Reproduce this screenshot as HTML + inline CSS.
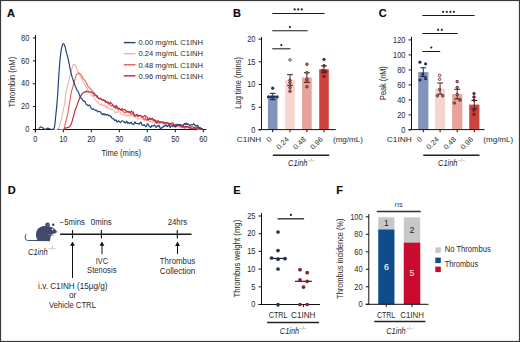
<!DOCTYPE html>
<html><head><meta charset="utf-8"><title>Figure</title>
<style>
html,body{margin:0;padding:0;background:#fff;width:520px;height:342px;overflow:hidden;}
svg{display:block;}
text{font-family:"Liberation Sans", sans-serif;}
</style></head>
<body>
<svg width="520" height="342" viewBox="0 0 520 342">
<rect x="0" y="0" width="520" height="342" fill="#fff"/>
<text x="7.00" y="16.50" font-size="11" fill="#0a0a0a" stroke="#0a0a0a" stroke-width="0.15" font-weight="bold">A</text>
<text x="233.00" y="16.50" font-size="11" fill="#0a0a0a" stroke="#0a0a0a" stroke-width="0.15" font-weight="bold">B</text>
<text x="378.80" y="16.70" font-size="11" fill="#0a0a0a" stroke="#0a0a0a" stroke-width="0.15" font-weight="bold">C</text>
<text x="7.80" y="194.30" font-size="11" fill="#0a0a0a" stroke="#0a0a0a" stroke-width="0.15" font-weight="bold">D</text>
<text x="233.20" y="194.30" font-size="11" fill="#0a0a0a" stroke="#0a0a0a" stroke-width="0.15" font-weight="bold">E</text>
<text x="336.20" y="194.40" font-size="11" fill="#0a0a0a" stroke="#0a0a0a" stroke-width="0.15" font-weight="bold">F</text>
<line x1="35.50" y1="35.00" x2="35.50" y2="132.30" stroke="#111" stroke-width="1.0"/>
<line x1="35.00" y1="129.50" x2="206.50" y2="129.50" stroke="#111" stroke-width="1.0"/>
<line x1="32.90" y1="129.50" x2="35.50" y2="129.50" stroke="#111" stroke-width="1.0"/>
<text x="29.30" y="132.20" font-size="8.4" fill="#2a2a2a" text-anchor="end" textLength="4.15" lengthAdjust="spacingAndGlyphs">0</text>
<line x1="32.90" y1="106.62" x2="35.50" y2="106.62" stroke="#111" stroke-width="1.0"/>
<text x="29.30" y="109.32" font-size="8.4" fill="#2a2a2a" text-anchor="end" textLength="8.3" lengthAdjust="spacingAndGlyphs">20</text>
<line x1="32.90" y1="83.74" x2="35.50" y2="83.74" stroke="#111" stroke-width="1.0"/>
<text x="29.30" y="86.44" font-size="8.4" fill="#2a2a2a" text-anchor="end" textLength="8.3" lengthAdjust="spacingAndGlyphs">40</text>
<line x1="32.90" y1="60.86" x2="35.50" y2="60.86" stroke="#111" stroke-width="1.0"/>
<text x="29.30" y="63.56" font-size="8.4" fill="#2a2a2a" text-anchor="end" textLength="8.3" lengthAdjust="spacingAndGlyphs">60</text>
<line x1="32.90" y1="37.98" x2="35.50" y2="37.98" stroke="#111" stroke-width="1.0"/>
<text x="29.30" y="40.68" font-size="8.4" fill="#2a2a2a" text-anchor="end" textLength="8.3" lengthAdjust="spacingAndGlyphs">80</text>
<line x1="35.30" y1="129.50" x2="35.30" y2="132.30" stroke="#111" stroke-width="1.0"/>
<text x="35.30" y="142.40" font-size="8.4" fill="#2a2a2a" text-anchor="middle" textLength="4.15" lengthAdjust="spacingAndGlyphs">0</text>
<line x1="63.30" y1="129.50" x2="63.30" y2="132.30" stroke="#111" stroke-width="1.0"/>
<text x="63.30" y="142.40" font-size="8.4" fill="#2a2a2a" text-anchor="middle" textLength="8.3" lengthAdjust="spacingAndGlyphs">10</text>
<line x1="91.30" y1="129.50" x2="91.30" y2="132.30" stroke="#111" stroke-width="1.0"/>
<text x="91.30" y="142.40" font-size="8.4" fill="#2a2a2a" text-anchor="middle" textLength="8.3" lengthAdjust="spacingAndGlyphs">20</text>
<line x1="119.30" y1="129.50" x2="119.30" y2="132.30" stroke="#111" stroke-width="1.0"/>
<text x="119.30" y="142.40" font-size="8.4" fill="#2a2a2a" text-anchor="middle" textLength="8.3" lengthAdjust="spacingAndGlyphs">30</text>
<line x1="147.30" y1="129.50" x2="147.30" y2="132.30" stroke="#111" stroke-width="1.0"/>
<text x="147.30" y="142.40" font-size="8.4" fill="#2a2a2a" text-anchor="middle" textLength="8.3" lengthAdjust="spacingAndGlyphs">40</text>
<line x1="175.30" y1="129.50" x2="175.30" y2="132.30" stroke="#111" stroke-width="1.0"/>
<text x="175.30" y="142.40" font-size="8.4" fill="#2a2a2a" text-anchor="middle" textLength="8.3" lengthAdjust="spacingAndGlyphs">50</text>
<line x1="203.30" y1="129.50" x2="203.30" y2="132.30" stroke="#111" stroke-width="1.0"/>
<text x="203.30" y="142.40" font-size="8.4" fill="#2a2a2a" text-anchor="middle" textLength="8.3" lengthAdjust="spacingAndGlyphs">60</text>
<text x="121.30" y="155.60" font-size="8.9" fill="#2a2a2a" text-anchor="middle" textLength="39.7" lengthAdjust="spacingAndGlyphs">Time (mins)</text>
<text x="14.90" y="82.15" font-size="9.2" fill="#2a2a2a" text-anchor="middle" textLength="50.7" lengthAdjust="spacingAndGlyphs" transform="rotate(-90 14.90 82.15)">Thrombin (nM)</text>
<line x1="123.80" y1="42.60" x2="135.50" y2="42.60" stroke="#21467a" stroke-width="1.4"/>
<text x="138.50" y="45.40" font-size="7.6" fill="#2a2a2a" textLength="64.5" lengthAdjust="spacingAndGlyphs">0.00 mg/mL C1INH</text>
<line x1="123.80" y1="53.68" x2="135.50" y2="53.68" stroke="#efb2aa" stroke-width="1.4"/>
<text x="138.50" y="56.48" font-size="7.6" fill="#2a2a2a" textLength="64.5" lengthAdjust="spacingAndGlyphs">0.24 mg/mL C1INH</text>
<line x1="123.80" y1="64.76" x2="135.50" y2="64.76" stroke="#e2605f" stroke-width="1.4"/>
<text x="138.50" y="67.56" font-size="7.6" fill="#2a2a2a" textLength="64.5" lengthAdjust="spacingAndGlyphs">0.48 mg/mL C1INH</text>
<line x1="123.80" y1="75.84" x2="135.50" y2="75.84" stroke="#b8283a" stroke-width="1.4"/>
<text x="138.50" y="78.64" font-size="7.6" fill="#2a2a2a" textLength="64.5" lengthAdjust="spacingAndGlyphs">0.96 mg/mL C1INH</text>
<path d="M53.78,129.43 L54.40,129.51 L55.01,129.56 L55.63,129.47 L56.24,129.44 L56.86,129.49 L57.48,129.23 L58.09,128.73 L58.71,127.75 L59.32,126.27 L59.94,124.42 L60.56,122.21 L61.17,119.85 L61.79,117.40 L62.40,114.57 L63.02,111.58 L63.64,108.57 L64.25,105.37 L64.87,101.65 L65.48,95.87 L66.10,91.26 L66.72,88.74 L67.33,86.60 L67.95,84.12 L68.56,81.63 L69.18,79.41 L69.80,76.48 L70.41,73.97 L71.03,72.11 L71.64,69.41 L72.26,67.23 L72.88,65.68 L73.49,64.78 L74.11,64.45 L74.72,64.89 L75.34,65.84 L75.96,66.69 L76.57,68.25 L77.19,69.96 L77.80,71.60 L78.42,72.58 L79.04,73.92 L79.65,75.36 L80.27,76.33 L80.88,77.16 L81.50,78.42 L82.12,80.27 L82.73,81.00 L83.35,82.01 L83.96,83.37 L84.58,84.51 L85.20,85.17 L85.81,86.52 L86.43,87.11 L87.04,87.95 L87.66,89.58 L88.28,90.51 L88.89,91.45 L89.51,91.85 L90.12,92.14 L90.74,93.11 L91.36,95.36 L91.97,95.97 L92.59,95.54 L93.20,95.75 L93.82,97.31 L94.44,98.84 L95.05,99.27 L95.67,100.03 L96.28,101.04 L96.90,101.85 L97.52,101.91 L98.13,102.37 L98.75,103.15 L99.36,103.95 L99.98,104.86 L100.60,104.61 L101.21,104.02 L101.83,105.11 L102.44,105.90 L103.06,104.90 L103.68,104.78 L104.29,104.66 L104.91,105.97 L105.52,107.19 L106.14,107.60 L106.76,106.12 L107.37,105.76 L107.99,107.87 L108.60,108.50 L109.22,108.30 L109.84,109.12 L110.45,109.39 L111.07,109.51 L111.68,109.31 L112.30,109.16 L112.92,109.75 L113.53,109.98 L114.15,110.76 L114.76,111.36 L115.38,112.85 L116.00,112.73 L116.61,111.74 L117.23,112.13 L117.84,111.93 L118.46,111.78 L119.08,111.62 L119.69,111.95 L120.31,112.37 L120.92,113.35 L121.54,114.15 L122.16,114.44 L122.77,114.62 L123.39,115.04 L124.00,114.91 L124.62,114.63 L125.24,114.63 L125.85,115.44 L126.47,116.34 L127.08,115.64 L127.70,115.08 L128.32,114.77 L128.93,115.33 L129.55,116.39 L130.16,116.30 L130.78,115.06 L131.40,115.22 L132.01,114.93 L132.63,115.30 L133.24,116.98 L133.86,117.00 L134.48,116.85 L135.09,116.94 L135.71,117.17 L136.32,117.55 L136.94,118.14 L137.56,119.06 L138.17,118.86 L138.79,118.92 L139.40,118.77 L140.02,118.88 L140.64,118.44 L141.25,118.33 L141.87,118.74 L142.48,119.03 L143.10,119.41 L143.72,119.86 L144.33,119.99 L144.95,120.09 L145.56,119.82 L146.18,119.89 L146.80,120.14 L147.41,120.89 L148.03,120.40 L148.64,121.11 L149.26,121.47 L149.88,121.36 L150.49,121.45 L151.11,121.33 L151.72,121.95 L152.34,122.55 L152.96,122.23 L153.57,121.27 L154.19,122.02 L154.80,122.94 L155.42,122.95 L156.04,123.14 L156.65,122.23 L157.27,123.33 L157.88,122.91 L158.50,123.02 L159.12,124.02 L159.73,123.35 L160.35,122.80 L160.96,123.16 L161.58,123.38 L162.20,123.29 L162.81,123.73 L163.43,124.00 L164.04,124.22 L164.66,124.29 L165.28,124.87 L165.89,124.51 L166.51,125.19 L167.12,125.63 L167.74,124.69 L168.36,123.84 L168.97,124.43 L169.59,125.35 L170.20,125.25 L170.82,125.75 L171.44,125.84 L172.05,126.24 L172.67,127.27 L173.28,126.56 L173.90,126.83 L174.52,127.13 L175.13,127.64 L175.75,127.80 L176.36,127.17 L176.98,125.88 L177.60,125.43 L178.21,126.15 L178.83,126.17 L179.44,127.20 L180.06,128.15 L180.68,127.23 L181.29,126.88 L181.91,127.29 L182.52,127.03 L183.14,127.09 L183.76,128.12 L184.37,128.60 L184.99,128.02 L185.60,127.86 L186.22,127.74 L186.84,126.85 L187.45,126.63 L188.07,127.64 L188.68,127.41 L189.30,127.14 L189.92,127.23 L190.53,127.43 L191.15,128.08 L191.76,127.48 L192.38,126.77 L193.00,127.61 L193.61,128.55 L194.23,128.01 L194.84,127.59 L195.46,128.26 L196.08,128.64 L196.69,128.16 L197.31,129.13 L197.92,128.78 L198.54,129.03 L199.16,129.41 L199.77,128.38 L200.39,128.77 L201.00,129.56 L201.62,129.03 L202.24,129.64 L202.85,130.40" fill="none" stroke="#efb2aa" stroke-width="1.1" stroke-linejoin="round"/>
<path d="M59.32,129.34 L59.94,129.43 L60.56,129.51 L61.17,129.44 L61.79,129.47 L62.40,129.44 L63.02,129.44 L63.64,129.16 L64.25,128.30 L64.87,125.67 L65.48,122.85 L66.10,120.41 L66.72,117.82 L67.33,115.13 L67.95,112.42 L68.56,109.36 L69.18,105.45 L69.80,101.66 L70.41,97.63 L71.03,93.91 L71.64,90.93 L72.26,89.01 L72.88,86.84 L73.49,84.27 L74.11,82.06 L74.72,80.01 L75.34,77.85 L75.96,75.72 L76.57,74.48 L77.19,74.21 L77.80,73.63 L78.42,72.97 L79.04,73.08 L79.65,73.53 L80.27,73.85 L80.88,74.42 L81.50,75.47 L82.12,76.54 L82.73,77.94 L83.35,78.90 L83.96,79.37 L84.58,80.07 L85.20,81.02 L85.81,82.04 L86.43,82.98 L87.04,84.18 L87.66,85.78 L88.28,86.46 L88.89,86.78 L89.51,87.61 L90.12,88.73 L90.74,89.02 L91.36,89.97 L91.97,90.77 L92.59,91.00 L93.20,91.73 L93.82,93.15 L94.44,92.97 L95.05,93.88 L95.67,95.16 L96.28,96.07 L96.90,97.46 L97.52,97.33 L98.13,97.25 L98.75,98.08 L99.36,98.47 L99.98,98.69 L100.60,98.77 L101.21,98.77 L101.83,99.67 L102.44,100.25 L103.06,99.87 L103.68,99.62 L104.29,100.99 L104.91,101.74 L105.52,102.61 L106.14,101.73 L106.76,101.77 L107.37,102.14 L107.99,103.43 L108.60,104.28 L109.22,103.68 L109.84,104.05 L110.45,105.55 L111.07,106.21 L111.68,105.62 L112.30,105.37 L112.92,104.78 L113.53,106.51 L114.15,107.37 L114.76,107.74 L115.38,108.79 L116.00,108.43 L116.61,107.39 L117.23,108.40 L117.84,109.52 L118.46,109.97 L119.08,109.24 L119.69,109.17 L120.31,109.79 L120.92,110.37 L121.54,110.28 L122.16,110.53 L122.77,111.11 L123.39,111.28 L124.00,112.73 L124.62,112.78 L125.24,112.15 L125.85,112.23 L126.47,112.72 L127.08,112.06 L127.70,111.62 L128.32,112.09 L128.93,112.43 L129.55,112.40 L130.16,113.07 L130.78,114.13 L131.40,113.78 L132.01,113.37 L132.63,114.53 L133.24,114.60 L133.86,114.95 L134.48,115.59 L135.09,115.75 L135.71,115.25 L136.32,115.10 L136.94,115.63 L137.56,116.68 L138.17,116.40 L138.79,115.85 L139.40,115.61 L140.02,115.83 L140.64,115.94 L141.25,116.00 L141.87,116.66 L142.48,117.75 L143.10,117.91 L143.72,118.75 L144.33,120.00 L144.95,119.33 L145.56,117.71 L146.18,119.34 L146.80,120.54 L147.41,119.50 L148.03,118.36 L148.64,118.97 L149.26,119.32 L149.88,119.78 L150.49,119.68 L151.11,119.06 L151.72,119.41 L152.34,120.00 L152.96,119.69 L153.57,119.78 L154.19,120.59 L154.80,120.69 L155.42,120.93 L156.04,121.26 L156.65,120.74 L157.27,121.40 L157.88,122.30 L158.50,123.10 L159.12,122.62 L159.73,121.50 L160.35,122.38 L160.96,122.26 L161.58,122.39 L162.20,122.13 L162.81,122.32 L163.43,123.20 L164.04,123.24 L164.66,123.04 L165.28,123.13 L165.89,123.42 L166.51,123.57 L167.12,123.05 L167.74,122.74 L168.36,123.48 L168.97,124.34 L169.59,124.11 L170.20,124.14 L170.82,123.81 L171.44,123.43 L172.05,124.51 L172.67,125.11 L173.28,125.61 L173.90,125.60 L174.52,125.32 L175.13,124.42 L175.75,125.06 L176.36,125.46 L176.98,124.87 L177.60,126.02 L178.21,125.40 L178.83,125.04 L179.44,125.55 L180.06,126.23 L180.68,126.46 L181.29,126.42 L181.91,126.50 L182.52,127.90 L183.14,127.37 L183.76,126.82 L184.37,127.48 L184.99,128.16 L185.60,127.63 L186.22,127.38 L186.84,126.49 L187.45,126.15 L188.07,127.34 L188.68,128.58 L189.30,128.15 L189.92,127.99 L190.53,127.03 L191.15,126.44 L191.76,126.81 L192.38,126.23 L193.00,126.45 L193.61,127.46 L194.23,128.45 L194.84,128.50 L195.46,128.80 L196.08,127.83 L196.69,127.69 L197.31,127.38 L197.92,128.29 L198.54,129.40 L199.16,128.25 L199.77,127.43 L200.39,127.50 L201.00,129.00 L201.62,129.34 L202.24,128.98 L202.85,129.31" fill="none" stroke="#e2605f" stroke-width="1.1" stroke-linejoin="round"/>
<path d="M62.40,129.45 L63.02,129.45 L63.64,129.48 L64.25,129.53 L64.87,128.95 L65.48,127.91 L66.10,127.81 L66.72,127.72 L67.33,127.67 L67.95,127.54 L68.56,127.43 L69.18,126.93 L69.80,126.36 L70.41,125.39 L71.03,124.46 L71.64,122.89 L72.26,120.87 L72.88,118.39 L73.49,116.29 L74.11,114.05 L74.72,111.52 L75.34,109.26 L75.96,107.71 L76.57,106.67 L77.19,104.66 L77.80,102.86 L78.42,101.33 L79.04,99.46 L79.65,97.58 L80.27,96.84 L80.88,95.95 L81.50,94.69 L82.12,93.88 L82.73,93.21 L83.35,92.69 L83.96,92.04 L84.58,91.84 L85.20,92.33 L85.81,92.07 L86.43,91.16 L87.04,91.09 L87.66,91.63 L88.28,91.93 L88.89,91.94 L89.51,92.21 L90.12,92.07 L90.74,91.83 L91.36,92.03 L91.97,92.37 L92.59,93.27 L93.20,93.38 L93.82,93.62 L94.44,95.34 L95.05,95.72 L95.67,95.78 L96.28,95.68 L96.90,95.45 L97.52,96.62 L98.13,98.32 L98.75,98.52 L99.36,99.01 L99.98,98.87 L100.60,98.01 L101.21,99.34 L101.83,99.66 L102.44,99.93 L103.06,99.53 L103.68,99.84 L104.29,100.40 L104.91,100.59 L105.52,100.58 L106.14,101.85 L106.76,102.53 L107.37,102.52 L107.99,101.74 L108.60,102.72 L109.22,103.71 L109.84,103.22 L110.45,102.16 L111.07,103.31 L111.68,103.68 L112.30,104.17 L112.92,105.03 L113.53,105.83 L114.15,106.10 L114.76,106.77 L115.38,107.28 L116.00,105.39 L116.61,105.95 L117.23,107.22 L117.84,108.09 L118.46,108.52 L119.08,108.15 L119.69,108.66 L120.31,109.12 L120.92,110.01 L121.54,109.20 L122.16,108.51 L122.77,109.57 L123.39,109.71 L124.00,109.92 L124.62,109.60 L125.24,109.79 L125.85,110.72 L126.47,111.31 L127.08,111.15 L127.70,111.45 L128.32,111.88 L128.93,111.56 L129.55,111.84 L130.16,112.73 L130.78,112.12 L131.40,110.75 L132.01,111.81 L132.63,112.42 L133.24,111.92 L133.86,113.91 L134.48,115.89 L135.09,116.10 L135.71,115.61 L136.32,114.51 L136.94,114.57 L137.56,115.90 L138.17,115.21 L138.79,115.88 L139.40,115.62 L140.02,115.40 L140.64,115.67 L141.25,116.10 L141.87,116.56 L142.48,117.25 L143.10,116.70 L143.72,116.18 L144.33,115.92 L144.95,115.39 L145.56,116.25 L146.18,116.78 L146.80,116.76 L147.41,117.94 L148.03,119.56 L148.64,119.91 L149.26,118.26 L149.88,118.09 L150.49,118.47 L151.11,119.17 L151.72,118.84 L152.34,118.23 L152.96,119.33 L153.57,120.56 L154.19,120.22 L154.80,119.62 L155.42,121.23 L156.04,122.75 L156.65,122.84 L157.27,121.90 L157.88,120.67 L158.50,120.99 L159.12,121.92 L159.73,122.32 L160.35,121.86 L160.96,121.88 L161.58,122.22 L162.20,122.36 L162.81,122.24 L163.43,121.76 L164.04,123.45 L164.66,123.15 L165.28,123.14 L165.89,122.65 L166.51,122.90 L167.12,122.84 L167.74,122.83 L168.36,122.98 L168.97,123.20 L169.59,124.17 L170.20,123.59 L170.82,123.85 L171.44,123.61 L172.05,122.99 L172.67,122.97 L173.28,123.53 L173.90,125.83 L174.52,125.63 L175.13,124.73 L175.75,125.55 L176.36,125.12 L176.98,124.04 L177.60,124.66 L178.21,125.78 L178.83,125.36 L179.44,125.17 L180.06,125.63 L180.68,125.91 L181.29,126.24 L181.91,126.97 L182.52,126.63 L183.14,126.79 L183.76,126.26 L184.37,126.33 L184.99,126.92 L185.60,126.41 L186.22,126.43 L186.84,126.66 L187.45,126.58 L188.07,127.14 L188.68,127.35 L189.30,127.23 L189.92,127.08 L190.53,127.18 L191.15,128.77 L191.76,128.65 L192.38,129.06 L193.00,128.41 L193.61,127.77 L194.23,127.65 L194.84,127.32 L195.46,128.23 L196.08,129.99 L196.69,129.13 L197.31,127.20 L197.92,127.00 L198.54,128.29 L199.16,128.90 L199.77,127.86 L200.39,129.28 L201.00,128.79 L201.62,128.49 L202.24,128.71 L202.85,129.30" fill="none" stroke="#b8283a" stroke-width="1.15" stroke-linejoin="round"/>
<path d="M39.00,128.66 L39.61,127.84 L40.23,127.05 L40.84,126.96 L41.46,126.94 L42.08,127.56 L42.69,127.84 L43.31,128.20 L43.92,129.05 L44.54,129.27 L45.16,129.18 L45.77,129.00 L46.39,129.00 L47.00,128.60 L47.62,128.16 L48.24,128.29 L48.85,128.57 L49.47,128.77 L50.08,129.00 L50.70,129.18 L51.32,129.26 L51.93,129.45 L52.55,129.30 L53.16,129.30 L53.78,128.76 L54.40,127.65 L55.01,123.49 L55.63,116.99 L56.24,111.12 L56.86,104.63 L57.48,97.31 L58.09,87.45 L58.71,77.11 L59.32,68.08 L59.94,60.74 L60.56,54.68 L61.17,50.17 L61.79,47.37 L62.40,44.79 L63.02,43.75 L63.64,43.94 L64.25,44.64 L64.87,45.87 L65.48,48.19 L66.10,51.24 L66.72,53.59 L67.33,55.80 L67.95,58.19 L68.56,61.02 L69.18,63.94 L69.80,67.17 L70.41,70.47 L71.03,72.96 L71.64,75.07 L72.26,77.44 L72.88,79.44 L73.49,81.01 L74.11,82.78 L74.72,84.56 L75.34,86.11 L75.96,87.83 L76.57,89.39 L77.19,90.56 L77.80,91.20 L78.42,92.10 L79.04,94.03 L79.65,95.33 L80.27,96.68 L80.88,98.12 L81.50,98.40 L82.12,99.03 L82.73,100.32 L83.35,100.65 L83.96,101.41 L84.58,101.27 L85.20,101.73 L85.81,103.40 L86.43,104.75 L87.04,104.76 L87.66,105.44 L88.28,105.81 L88.89,105.33 L89.51,104.96 L90.12,105.95 L90.74,107.08 L91.36,108.80 L91.97,108.99 L92.59,109.30 L93.20,108.78 L93.82,109.45 L94.44,109.78 L95.05,110.12 L95.67,110.38 L96.28,110.07 L96.90,110.75 L97.52,111.76 L98.13,111.82 L98.75,111.46 L99.36,111.27 L99.98,111.90 L100.60,111.91 L101.21,113.26 L101.83,114.01 L102.44,114.47 L103.06,113.64 L103.68,114.69 L104.29,114.86 L104.91,113.92 L105.52,114.75 L106.14,115.03 L106.76,114.26 L107.37,114.66 L107.99,114.74 L108.60,115.58 L109.22,115.39 L109.84,115.55 L110.45,116.29 L111.07,116.25 L111.68,117.92 L112.30,118.70 L112.92,118.63 L113.53,118.63 L114.15,119.89 L114.76,120.56 L115.38,120.11 L116.00,119.81 L116.61,121.21 L117.23,122.12 L117.84,121.31 L118.46,120.78 L119.08,121.38 L119.69,121.75 L120.31,122.72 L120.92,121.81 L121.54,121.18 L122.16,120.90 L122.77,120.96 L123.39,121.22 L124.00,122.13 L124.62,121.98 L125.24,123.17 L125.85,122.59 L126.47,121.13 L127.08,121.70 L127.70,123.38 L128.32,122.59 L128.93,123.05 L129.55,123.55 L130.16,123.05 L130.78,122.60 L131.40,122.42 L132.01,124.11 L132.63,124.02 L133.24,124.00 L133.86,124.50 L134.48,122.44 L135.09,121.84 L135.71,123.32 L136.32,123.35 L136.94,123.49 L137.56,123.52 L138.17,123.78 L138.79,123.42 L139.40,124.02 L140.02,122.90 L140.64,122.59 L141.25,122.41 L141.87,124.80 L142.48,125.08 L143.10,125.44 L143.72,124.83 L144.33,124.56 L144.95,125.74 L145.56,126.70 L146.18,126.66 L146.80,125.02 L147.41,123.81 L148.03,124.01 L148.64,125.30 L149.26,126.33 L149.88,126.52 L150.49,127.38 L151.11,127.14 L151.72,125.53 L152.34,125.83 L152.96,125.97 L153.57,125.97 L154.19,124.95 L154.80,125.15 L155.42,126.89 L156.04,127.36 L156.65,127.09 L157.27,125.73 L157.88,125.77 L158.50,126.40 L159.12,125.42 L159.73,126.90 L160.35,128.70 L160.96,129.16 L161.58,127.72 L162.20,127.04 L162.81,127.31 L163.43,126.51 L164.04,125.85 L164.66,126.30 L165.28,125.62 L165.89,124.96 L166.51,125.88 L167.12,126.72 L167.74,126.13 L168.36,125.31 L168.97,124.65 L169.59,126.51 L170.20,127.53 L170.82,126.32 L171.44,125.97 L172.05,126.25 L172.67,125.70 L173.28,125.37 L173.90,125.23 L174.52,126.56 L175.13,126.79 L175.75,126.33 L176.36,126.05 L176.98,124.93 L177.60,125.15 L178.21,125.38 L178.83,124.55 L179.44,124.78 L180.06,124.62 L180.68,124.71 L181.29,125.26 L181.91,125.19 L182.52,125.09 L183.14,125.47 L183.76,124.67 L184.37,123.58 L184.99,124.03 L185.60,124.36 L186.22,123.08 L186.84,124.59 L187.45,124.31 L188.07,123.81 L188.68,124.06 L189.30,125.51 L189.92,125.55 L190.53,125.21 L191.15,124.45 L191.76,124.71 L192.38,124.87 L193.00,124.40 L193.61,123.60 L194.23,124.20 L194.84,124.86 L195.46,125.83 L196.08,125.56 L196.69,126.13 L197.31,125.28 L197.92,125.91 L198.54,127.40 L199.16,128.06 L199.77,127.70 L200.39,127.86 L201.00,128.63 L201.62,128.87 L202.24,129.04 L202.85,129.26" fill="none" stroke="#21467a" stroke-width="1.2" stroke-linejoin="round"/>
<rect x="267.90" y="96.50" width="9.60" height="33.10" fill="#8393bb"/>
<rect x="285.20" y="80.00" width="9.60" height="49.60" fill="#f6d5cf"/>
<rect x="302.10" y="77.50" width="9.60" height="52.10" fill="#e9a199"/>
<rect x="319.20" y="69.30" width="9.60" height="60.30" fill="#cf433f"/>
<line x1="261.50" y1="37.00" x2="261.50" y2="129.60" stroke="#111" stroke-width="1.0"/>
<line x1="258.50" y1="129.60" x2="335.80" y2="129.60" stroke="#111" stroke-width="1.0"/>
<line x1="258.60" y1="129.90" x2="261.50" y2="129.90" stroke="#111" stroke-width="1.0"/>
<text x="255.50" y="132.60" font-size="8.4" fill="#2a2a2a" text-anchor="end" textLength="4.15" lengthAdjust="spacingAndGlyphs">0</text>
<line x1="258.60" y1="107.20" x2="261.50" y2="107.20" stroke="#111" stroke-width="1.0"/>
<text x="255.50" y="109.90" font-size="8.4" fill="#2a2a2a" text-anchor="end" textLength="4.15" lengthAdjust="spacingAndGlyphs">5</text>
<line x1="258.60" y1="84.50" x2="261.50" y2="84.50" stroke="#111" stroke-width="1.0"/>
<text x="255.50" y="87.20" font-size="8.4" fill="#2a2a2a" text-anchor="end" textLength="8.3" lengthAdjust="spacingAndGlyphs">10</text>
<line x1="258.60" y1="61.80" x2="261.50" y2="61.80" stroke="#111" stroke-width="1.0"/>
<text x="255.50" y="64.50" font-size="8.4" fill="#2a2a2a" text-anchor="end" textLength="8.3" lengthAdjust="spacingAndGlyphs">15</text>
<line x1="258.60" y1="39.10" x2="261.50" y2="39.10" stroke="#111" stroke-width="1.0"/>
<text x="255.50" y="41.80" font-size="8.4" fill="#2a2a2a" text-anchor="end" textLength="8.3" lengthAdjust="spacingAndGlyphs">20</text>
<line x1="272.70" y1="129.60" x2="272.70" y2="132.20" stroke="#111" stroke-width="1.0"/>
<line x1="290.00" y1="129.60" x2="290.00" y2="132.20" stroke="#111" stroke-width="1.0"/>
<line x1="306.90" y1="129.60" x2="306.90" y2="132.20" stroke="#111" stroke-width="1.0"/>
<line x1="324.00" y1="129.60" x2="324.00" y2="132.20" stroke="#111" stroke-width="1.0"/>
<line x1="272.70" y1="93.30" x2="272.70" y2="99.70" stroke="#1a1a30" stroke-width="0.9"/>
<line x1="269.80" y1="93.30" x2="275.60" y2="93.30" stroke="#1a1a30" stroke-width="1.0"/>
<line x1="269.80" y1="99.70" x2="275.60" y2="99.70" stroke="#1a1a30" stroke-width="1.0"/>
<circle cx="272.70" cy="88.20" r="1.6" fill="#1d3562" stroke="none" stroke-width="0.6"/>
<circle cx="268.50" cy="96.80" r="1.6" fill="#1d3562" stroke="none" stroke-width="0.6"/>
<circle cx="271.40" cy="96.80" r="1.6" fill="#1d3562" stroke="none" stroke-width="0.6"/>
<circle cx="274.30" cy="96.80" r="1.6" fill="#1d3562" stroke="none" stroke-width="0.6"/>
<circle cx="277.20" cy="96.80" r="1.6" fill="#1d3562" stroke="none" stroke-width="0.6"/>
<line x1="290.00" y1="74.70" x2="290.00" y2="85.30" stroke="#3a1a20" stroke-width="0.9"/>
<line x1="287.10" y1="74.70" x2="292.90" y2="74.70" stroke="#3a1a20" stroke-width="1.0"/>
<line x1="287.10" y1="85.30" x2="292.90" y2="85.30" stroke="#3a1a20" stroke-width="1.0"/>
<circle cx="290.00" cy="59.90" r="1.3" fill="#f6e4e2" stroke="#5a2128" stroke-width="0.75"/>
<circle cx="290.00" cy="80.20" r="1.3" fill="#a86a68" stroke="#5a2128" stroke-width="0.75"/>
<circle cx="290.00" cy="82.60" r="1.3" fill="#a86a68" stroke="#5a2128" stroke-width="0.75"/>
<circle cx="290.00" cy="87.60" r="1.3" fill="#a86a68" stroke="#5a2128" stroke-width="0.75"/>
<circle cx="290.00" cy="91.20" r="1.3" fill="#a86a68" stroke="#5a2128" stroke-width="0.75"/>
<line x1="306.90" y1="72.70" x2="306.90" y2="82.30" stroke="#3a1a20" stroke-width="0.9"/>
<line x1="304.00" y1="72.70" x2="309.80" y2="72.70" stroke="#3a1a20" stroke-width="1.0"/>
<line x1="304.00" y1="82.30" x2="309.80" y2="82.30" stroke="#3a1a20" stroke-width="1.0"/>
<circle cx="306.90" cy="64.20" r="1.3" fill="#a86a68" stroke="#5a2128" stroke-width="0.75"/>
<circle cx="306.90" cy="72.70" r="1.3" fill="#a86a68" stroke="#5a2128" stroke-width="0.75"/>
<circle cx="306.90" cy="79.20" r="1.3" fill="#a86a68" stroke="#5a2128" stroke-width="0.75"/>
<circle cx="306.90" cy="81.60" r="1.3" fill="#a86a68" stroke="#5a2128" stroke-width="0.75"/>
<circle cx="306.90" cy="86.80" r="1.3" fill="#a86a68" stroke="#5a2128" stroke-width="0.75"/>
<line x1="324.00" y1="65.80" x2="324.00" y2="72.80" stroke="#3a1a20" stroke-width="0.9"/>
<line x1="321.10" y1="65.80" x2="326.90" y2="65.80" stroke="#3a1a20" stroke-width="1.0"/>
<line x1="321.10" y1="72.80" x2="326.90" y2="72.80" stroke="#3a1a20" stroke-width="1.0"/>
<circle cx="324.00" cy="59.50" r="1.3" fill="#7a2430" stroke="#5a2128" stroke-width="0.75"/>
<circle cx="324.00" cy="65.80" r="1.3" fill="#7a2430" stroke="#5a2128" stroke-width="0.75"/>
<circle cx="322.80" cy="70.50" r="1.3" fill="#7a2430" stroke="#5a2128" stroke-width="0.75"/>
<circle cx="325.60" cy="71.20" r="1.3" fill="#7a2430" stroke="#5a2128" stroke-width="0.75"/>
<circle cx="324.00" cy="76.30" r="1.3" fill="#7a2430" stroke="#5a2128" stroke-width="0.75"/>
<line x1="272.30" y1="48.80" x2="290.40" y2="48.80" stroke="#1a1a1a" stroke-width="1.05"/>
<circle cx="281.30" cy="45.10" r="1.1" fill="#222" stroke="none" stroke-width="0.6"/>
<line x1="272.30" y1="30.70" x2="307.70" y2="30.70" stroke="#1a1a1a" stroke-width="1.05"/>
<circle cx="289.90" cy="27.10" r="1.1" fill="#222" stroke="none" stroke-width="0.6"/>
<line x1="272.30" y1="13.50" x2="324.60" y2="13.50" stroke="#1a1a1a" stroke-width="1.05"/>
<circle cx="294.70" cy="9.40" r="1.1" fill="#222" stroke="none" stroke-width="0.6"/>
<circle cx="298.20" cy="9.40" r="1.1" fill="#222" stroke="none" stroke-width="0.6"/>
<circle cx="301.70" cy="9.40" r="1.1" fill="#222" stroke="none" stroke-width="0.6"/>
<text x="261.10" y="141.80" font-size="8" fill="#2a2a2a" text-anchor="end" textLength="24.3" lengthAdjust="spacingAndGlyphs">C1INH</text>
<text x="333.00" y="142.20" font-size="8" fill="#2a2a2a" textLength="29.9" lengthAdjust="spacingAndGlyphs">(mg/mL)</text>
<line x1="272.80" y1="155.20" x2="329.30" y2="155.20" stroke="#222" stroke-width="1.4"/>
<text x="288.00" y="166.10" font-size="8.7" fill="#2a2a2a" font-style="italic" textLength="19.5" lengthAdjust="spacingAndGlyphs">C1inh</text>
<text x="307.80" y="162.20" font-size="4.785" fill="#777" textLength="6.9" lengthAdjust="spacingAndGlyphs">−/−</text>
<text x="272.10" y="139.90" font-size="7.4" fill="#2a2a2a" text-anchor="end" transform="rotate(-45 272.10 139.90)">0</text>
<text x="289.40" y="139.90" font-size="7.4" fill="#2a2a2a" text-anchor="end" transform="rotate(-45 289.40 139.90)">0.24</text>
<text x="306.30" y="139.90" font-size="7.4" fill="#2a2a2a" text-anchor="end" transform="rotate(-45 306.30 139.90)">0.48</text>
<text x="323.40" y="139.90" font-size="7.4" fill="#2a2a2a" text-anchor="end" transform="rotate(-45 323.40 139.90)">0.96</text>
<text x="240.60" y="82.90" font-size="8.9" fill="#2a2a2a" text-anchor="middle" textLength="51.6" lengthAdjust="spacingAndGlyphs" transform="rotate(-90 240.60 82.90)">Lag time (mins)</text>
<rect x="418.20" y="72.10" width="10.20" height="57.50" fill="#8393bb"/>
<rect x="435.00" y="88.60" width="10.20" height="41.00" fill="#f6d5cf"/>
<rect x="452.10" y="94.10" width="10.20" height="35.50" fill="#e9a199"/>
<rect x="469.20" y="104.60" width="10.20" height="25.00" fill="#cf433f"/>
<line x1="411.50" y1="36.80" x2="411.50" y2="129.60" stroke="#111" stroke-width="1.0"/>
<line x1="408.50" y1="129.60" x2="484.50" y2="129.60" stroke="#111" stroke-width="1.0"/>
<line x1="408.60" y1="129.90" x2="411.50" y2="129.90" stroke="#111" stroke-width="1.0"/>
<text x="405.50" y="132.60" font-size="8.4" fill="#2a2a2a" text-anchor="end" textLength="4.15" lengthAdjust="spacingAndGlyphs">0</text>
<line x1="408.60" y1="114.90" x2="411.50" y2="114.90" stroke="#111" stroke-width="1.0"/>
<text x="405.50" y="117.60" font-size="8.4" fill="#2a2a2a" text-anchor="end" textLength="8.3" lengthAdjust="spacingAndGlyphs">20</text>
<line x1="408.60" y1="99.90" x2="411.50" y2="99.90" stroke="#111" stroke-width="1.0"/>
<text x="405.50" y="102.60" font-size="8.4" fill="#2a2a2a" text-anchor="end" textLength="8.3" lengthAdjust="spacingAndGlyphs">40</text>
<line x1="408.60" y1="84.90" x2="411.50" y2="84.90" stroke="#111" stroke-width="1.0"/>
<text x="405.50" y="87.60" font-size="8.4" fill="#2a2a2a" text-anchor="end" textLength="8.3" lengthAdjust="spacingAndGlyphs">60</text>
<line x1="408.60" y1="69.90" x2="411.50" y2="69.90" stroke="#111" stroke-width="1.0"/>
<text x="405.50" y="72.60" font-size="8.4" fill="#2a2a2a" text-anchor="end" textLength="8.3" lengthAdjust="spacingAndGlyphs">80</text>
<line x1="408.60" y1="54.90" x2="411.50" y2="54.90" stroke="#111" stroke-width="1.0"/>
<text x="405.50" y="57.60" font-size="8.4" fill="#2a2a2a" text-anchor="end" textLength="12.450000000000001" lengthAdjust="spacingAndGlyphs">100</text>
<line x1="408.60" y1="39.90" x2="411.50" y2="39.90" stroke="#111" stroke-width="1.0"/>
<text x="405.50" y="42.60" font-size="8.4" fill="#2a2a2a" text-anchor="end" textLength="12.450000000000001" lengthAdjust="spacingAndGlyphs">120</text>
<line x1="423.30" y1="129.60" x2="423.30" y2="132.20" stroke="#111" stroke-width="1.0"/>
<line x1="440.10" y1="129.60" x2="440.10" y2="132.20" stroke="#111" stroke-width="1.0"/>
<line x1="457.20" y1="129.60" x2="457.20" y2="132.20" stroke="#111" stroke-width="1.0"/>
<line x1="474.30" y1="129.60" x2="474.30" y2="132.20" stroke="#111" stroke-width="1.0"/>
<line x1="423.30" y1="67.80" x2="423.30" y2="76.40" stroke="#1a1a30" stroke-width="0.9"/>
<line x1="420.40" y1="67.80" x2="426.20" y2="67.80" stroke="#1a1a30" stroke-width="1.0"/>
<line x1="420.40" y1="76.40" x2="426.20" y2="76.40" stroke="#1a1a30" stroke-width="1.0"/>
<circle cx="419.90" cy="62.20" r="1.6" fill="#1d3562" stroke="none" stroke-width="0.6"/>
<circle cx="425.60" cy="63.80" r="1.6" fill="#1d3562" stroke="none" stroke-width="0.6"/>
<circle cx="422.80" cy="74.10" r="1.6" fill="#1d3562" stroke="none" stroke-width="0.6"/>
<circle cx="419.90" cy="80.00" r="1.6" fill="#1d3562" stroke="none" stroke-width="0.6"/>
<circle cx="425.60" cy="78.70" r="1.6" fill="#1d3562" stroke="none" stroke-width="0.6"/>
<line x1="440.10" y1="83.00" x2="440.10" y2="94.20" stroke="#3a1a20" stroke-width="0.9"/>
<line x1="437.20" y1="83.00" x2="443.00" y2="83.00" stroke="#3a1a20" stroke-width="1.0"/>
<line x1="437.20" y1="94.20" x2="443.00" y2="94.20" stroke="#3a1a20" stroke-width="1.0"/>
<circle cx="439.60" cy="75.40" r="1.3" fill="#f6e4e2" stroke="#5a2128" stroke-width="0.75"/>
<circle cx="439.60" cy="79.30" r="1.3" fill="#f6e4e2" stroke="#5a2128" stroke-width="0.75"/>
<circle cx="439.60" cy="89.50" r="1.3" fill="#a86a68" stroke="#5a2128" stroke-width="0.75"/>
<circle cx="437.40" cy="95.80" r="1.3" fill="#a86a68" stroke="#5a2128" stroke-width="0.75"/>
<circle cx="442.70" cy="95.80" r="1.3" fill="#a86a68" stroke="#5a2128" stroke-width="0.75"/>
<line x1="457.20" y1="89.30" x2="457.20" y2="98.90" stroke="#3a1a20" stroke-width="0.9"/>
<line x1="454.30" y1="89.30" x2="460.10" y2="89.30" stroke="#3a1a20" stroke-width="1.0"/>
<line x1="454.30" y1="98.90" x2="460.10" y2="98.90" stroke="#3a1a20" stroke-width="1.0"/>
<circle cx="457.20" cy="81.60" r="1.3" fill="#a86a68" stroke="#5a2128" stroke-width="0.75"/>
<circle cx="457.20" cy="87.40" r="1.3" fill="#a86a68" stroke="#5a2128" stroke-width="0.75"/>
<circle cx="457.20" cy="94.40" r="1.3" fill="#a86a68" stroke="#5a2128" stroke-width="0.75"/>
<circle cx="460.00" cy="100.00" r="1.3" fill="#a86a68" stroke="#5a2128" stroke-width="0.75"/>
<circle cx="454.40" cy="103.00" r="1.3" fill="#a86a68" stroke="#5a2128" stroke-width="0.75"/>
<line x1="474.30" y1="100.50" x2="474.30" y2="108.70" stroke="#3a1a20" stroke-width="0.9"/>
<line x1="471.40" y1="100.50" x2="477.20" y2="100.50" stroke="#3a1a20" stroke-width="1.0"/>
<line x1="471.40" y1="108.70" x2="477.20" y2="108.70" stroke="#3a1a20" stroke-width="1.0"/>
<circle cx="474.00" cy="93.60" r="1.3" fill="#7a2430" stroke="#5a2128" stroke-width="0.75"/>
<circle cx="474.00" cy="97.00" r="1.3" fill="#7a2430" stroke="#5a2128" stroke-width="0.75"/>
<circle cx="474.00" cy="100.20" r="1.3" fill="#7a2430" stroke="#5a2128" stroke-width="0.75"/>
<circle cx="474.00" cy="110.20" r="1.3" fill="#7a2430" stroke="#5a2128" stroke-width="0.75"/>
<circle cx="474.00" cy="114.20" r="1.3" fill="#7a2430" stroke="#5a2128" stroke-width="0.75"/>
<line x1="422.40" y1="51.50" x2="440.20" y2="51.50" stroke="#1a1a1a" stroke-width="1.05"/>
<circle cx="431.30" cy="47.50" r="1.1" fill="#222" stroke="none" stroke-width="0.6"/>
<line x1="422.40" y1="33.50" x2="457.60" y2="33.50" stroke="#1a1a1a" stroke-width="1.05"/>
<circle cx="438.10" cy="29.80" r="1.1" fill="#222" stroke="none" stroke-width="0.6"/>
<circle cx="441.80" cy="29.80" r="1.1" fill="#222" stroke="none" stroke-width="0.6"/>
<line x1="422.40" y1="15.50" x2="474.60" y2="15.50" stroke="#1a1a1a" stroke-width="1.05"/>
<circle cx="443.10" cy="11.80" r="1.1" fill="#222" stroke="none" stroke-width="0.6"/>
<circle cx="446.80" cy="11.80" r="1.1" fill="#222" stroke="none" stroke-width="0.6"/>
<circle cx="450.40" cy="11.80" r="1.1" fill="#222" stroke="none" stroke-width="0.6"/>
<circle cx="453.90" cy="11.80" r="1.1" fill="#222" stroke="none" stroke-width="0.6"/>
<text x="411.80" y="141.80" font-size="8" fill="#2a2a2a" text-anchor="end" textLength="25.1" lengthAdjust="spacingAndGlyphs">C1INH</text>
<text x="483.30" y="142.20" font-size="8" fill="#2a2a2a" textLength="29.9" lengthAdjust="spacingAndGlyphs">(mg/mL)</text>
<line x1="423.30" y1="155.20" x2="479.50" y2="155.20" stroke="#222" stroke-width="1.4"/>
<text x="438.00" y="166.10" font-size="8.7" fill="#2a2a2a" font-style="italic" textLength="19.5" lengthAdjust="spacingAndGlyphs">C1inh</text>
<text x="457.80" y="162.20" font-size="4.785" fill="#777" textLength="7.3" lengthAdjust="spacingAndGlyphs">−/−</text>
<text x="422.70" y="139.90" font-size="7.4" fill="#2a2a2a" text-anchor="end" transform="rotate(-45 422.70 139.90)">0</text>
<text x="439.50" y="139.90" font-size="7.4" fill="#2a2a2a" text-anchor="end" transform="rotate(-45 439.50 139.90)">0.24</text>
<text x="456.60" y="139.90" font-size="7.4" fill="#2a2a2a" text-anchor="end" transform="rotate(-45 456.60 139.90)">0.48</text>
<text x="473.70" y="139.90" font-size="7.4" fill="#2a2a2a" text-anchor="end" transform="rotate(-45 473.70 139.90)">0.96</text>
<text x="386.20" y="83.05" font-size="9.4" fill="#2a2a2a" text-anchor="middle" textLength="33.7" lengthAdjust="spacingAndGlyphs" transform="rotate(-90 386.20 83.05)">Peak (nM)</text>
<g fill="#404b6b"><path d="M38.0,240.6 Q36.0,239.0 35.9,235.0 Q35.9,229.0 40.5,226.9 Q43.5,225.7 46.5,226.3 Q50.5,226.0 53.2,227.8 Q55.8,229.6 57.2,231.9 Q55.6,233.4 53.2,233.8 L50.8,236.0 L50.0,240.6 Z"/><circle cx="47.5" cy="224.9" r="2.35"/><circle cx="53.2" cy="224.7" r="1.3"/><rect x="36" y="239.8" width="14" height="1.3"/></g>
<circle cx="47.6" cy="225.0" r="1.0" fill="#59658a"/>
<path d="M47.6,234.6 Q50.5,234.2 53.6,235.6" fill="none" stroke="#7d88a6" stroke-width="0.7"/>
<circle cx="52.5" cy="229.4" r="0.8" fill="#fff"/>
<path d="M37,240.5 L27.8,240.5 Q25.0,240.2 25.1,237.0 Q25.2,234.6 26.4,234.0" fill="none" stroke="#404b6b" stroke-width="0.95"/>
<text x="27.90" y="254.70" font-size="9.2" fill="#2a2a2a" font-style="italic" textLength="19.9" lengthAdjust="spacingAndGlyphs">C1inh</text>
<text x="48.10" y="250.40" font-size="5.06" fill="#777" textLength="7.7" lengthAdjust="spacingAndGlyphs">−/−</text>
<line x1="60.10" y1="234.30" x2="191.50" y2="234.30" stroke="#1a1a1a" stroke-width="1.4"/>
<line x1="72.50" y1="230.10" x2="72.50" y2="238.40" stroke="#111" stroke-width="1.1"/>
<line x1="101.40" y1="230.10" x2="101.40" y2="238.40" stroke="#111" stroke-width="1.1"/>
<line x1="177.30" y1="230.10" x2="177.30" y2="238.40" stroke="#111" stroke-width="1.1"/>
<text x="72.25" y="224.90" font-size="8.3" fill="#2a2a2a" text-anchor="middle" textLength="25.3" lengthAdjust="spacingAndGlyphs">−5mins</text>
<text x="101.30" y="224.90" font-size="8.3" fill="#2a2a2a" text-anchor="middle" textLength="21.0" lengthAdjust="spacingAndGlyphs">0mins</text>
<text x="177.45" y="224.90" font-size="8.3" fill="#2a2a2a" text-anchor="middle" textLength="19.5" lengthAdjust="spacingAndGlyphs">24hrs</text>
<line x1="72.50" y1="244.40" x2="72.50" y2="278.00" stroke="#111" stroke-width="1.0"/>
<path d="M70.10,245.70 L72.50,241.40 L74.90,245.70 Z" fill="#111"/>
<line x1="102.00" y1="244.40" x2="102.00" y2="254.20" stroke="#111" stroke-width="1.0"/>
<path d="M99.60,245.70 L102.00,241.40 L104.40,245.70 Z" fill="#111"/>
<line x1="177.50" y1="244.60" x2="177.50" y2="254.00" stroke="#111" stroke-width="1.0"/>
<path d="M175.10,245.90 L177.50,241.60 L179.90,245.90 Z" fill="#111"/>
<text x="101.85" y="263.60" font-size="8.5" fill="#2a2a2a" text-anchor="middle" textLength="12.1" lengthAdjust="spacingAndGlyphs">IVC</text>
<text x="101.80" y="273.40" font-size="8.5" fill="#2a2a2a" text-anchor="middle" textLength="29.4" lengthAdjust="spacingAndGlyphs">Stenosis</text>
<text x="177.55" y="264.00" font-size="8.6" fill="#2a2a2a" text-anchor="middle" textLength="35.5" lengthAdjust="spacingAndGlyphs">Thrombus</text>
<text x="177.55" y="273.60" font-size="8.6" fill="#2a2a2a" text-anchor="middle" textLength="35.5" lengthAdjust="spacingAndGlyphs">Collection</text>
<text x="72.85" y="288.70" font-size="8.2" fill="#2a2a2a" text-anchor="middle" textLength="69.5" lengthAdjust="spacingAndGlyphs">i.v. C1INH (15μg/g)</text>
<text x="72.60" y="298.20" font-size="8.2" fill="#2a2a2a" text-anchor="middle">or</text>
<text x="72.45" y="307.70" font-size="8.2" fill="#2a2a2a" text-anchor="middle" textLength="46.9" lengthAdjust="spacingAndGlyphs">Vehicle CTRL</text>
<line x1="261.50" y1="213.20" x2="261.50" y2="304.50" stroke="#111" stroke-width="1.0"/>
<line x1="258.50" y1="304.50" x2="319.90" y2="304.50" stroke="#111" stroke-width="1.0"/>
<line x1="258.50" y1="304.50" x2="261.50" y2="304.50" stroke="#111" stroke-width="1.0"/>
<text x="255.50" y="307.20" font-size="8.4" fill="#2a2a2a" text-anchor="end" textLength="4.15" lengthAdjust="spacingAndGlyphs">0</text>
<line x1="258.50" y1="286.80" x2="261.50" y2="286.80" stroke="#111" stroke-width="1.0"/>
<text x="255.50" y="289.50" font-size="8.4" fill="#2a2a2a" text-anchor="end" textLength="4.15" lengthAdjust="spacingAndGlyphs">5</text>
<line x1="258.50" y1="269.10" x2="261.50" y2="269.10" stroke="#111" stroke-width="1.0"/>
<text x="255.50" y="271.80" font-size="8.4" fill="#2a2a2a" text-anchor="end" textLength="8.3" lengthAdjust="spacingAndGlyphs">10</text>
<line x1="258.50" y1="251.40" x2="261.50" y2="251.40" stroke="#111" stroke-width="1.0"/>
<text x="255.50" y="254.10" font-size="8.4" fill="#2a2a2a" text-anchor="end" textLength="8.3" lengthAdjust="spacingAndGlyphs">15</text>
<line x1="258.50" y1="233.70" x2="261.50" y2="233.70" stroke="#111" stroke-width="1.0"/>
<text x="255.50" y="236.40" font-size="8.4" fill="#2a2a2a" text-anchor="end" textLength="8.3" lengthAdjust="spacingAndGlyphs">20</text>
<line x1="258.50" y1="216.00" x2="261.50" y2="216.00" stroke="#111" stroke-width="1.0"/>
<text x="255.50" y="218.70" font-size="8.4" fill="#2a2a2a" text-anchor="end" textLength="8.3" lengthAdjust="spacingAndGlyphs">25</text>
<line x1="278.00" y1="304.50" x2="278.00" y2="307.10" stroke="#111" stroke-width="1.0"/>
<line x1="303.50" y1="304.50" x2="303.50" y2="307.10" stroke="#111" stroke-width="1.0"/>
<line x1="277.60" y1="218.80" x2="304.10" y2="218.80" stroke="#333" stroke-width="1.4"/>
<circle cx="290.90" cy="214.90" r="1.1" fill="#222" stroke="none" stroke-width="0.6"/>
<line x1="269.70" y1="258.40" x2="286.70" y2="258.40" stroke="#111" stroke-width="1.1"/>
<line x1="294.90" y1="281.30" x2="311.90" y2="281.30" stroke="#111" stroke-width="1.1"/>
<circle cx="278.00" cy="232.00" r="1.85" fill="#1c3557" stroke="none" stroke-width="0.6"/>
<circle cx="278.00" cy="250.60" r="1.85" fill="#1c3557" stroke="none" stroke-width="0.6"/>
<circle cx="271.60" cy="258.00" r="1.85" fill="#1c3557" stroke="none" stroke-width="0.6"/>
<circle cx="278.00" cy="259.20" r="1.85" fill="#1c3557" stroke="none" stroke-width="0.6"/>
<circle cx="285.00" cy="258.70" r="1.85" fill="#1c3557" stroke="none" stroke-width="0.6"/>
<circle cx="278.00" cy="269.00" r="1.85" fill="#1c3557" stroke="none" stroke-width="0.6"/>
<circle cx="278.00" cy="304.50" r="1.85" fill="#1c3557" stroke="none" stroke-width="0.6"/>
<circle cx="300.00" cy="269.70" r="1.85" fill="#8c1c2c" stroke="none" stroke-width="0.6"/>
<circle cx="307.20" cy="272.70" r="1.85" fill="#8c1c2c" stroke="none" stroke-width="0.6"/>
<circle cx="300.00" cy="279.90" r="1.85" fill="#8c1c2c" stroke="none" stroke-width="0.6"/>
<circle cx="307.20" cy="281.30" r="1.85" fill="#8c1c2c" stroke="none" stroke-width="0.6"/>
<circle cx="303.50" cy="287.10" r="1.85" fill="#8c1c2c" stroke="none" stroke-width="0.6"/>
<circle cx="300.00" cy="304.50" r="1.85" fill="#8c1c2c" stroke="none" stroke-width="0.6"/>
<circle cx="307.20" cy="304.50" r="1.85" fill="#8c1c2c" stroke="none" stroke-width="0.6"/>
<text x="268.80" y="317.70" font-size="8.3" fill="#2a2a2a" textLength="18.7" lengthAdjust="spacingAndGlyphs">CTRL</text>
<text x="291.00" y="317.70" font-size="8.3" fill="#2a2a2a" textLength="24.5" lengthAdjust="spacingAndGlyphs">C1INH</text>
<line x1="267.10" y1="322.50" x2="319.00" y2="322.50" stroke="#222" stroke-width="1.4"/>
<text x="279.80" y="333.90" font-size="9.2" fill="#2a2a2a" font-style="italic" textLength="19.4" lengthAdjust="spacingAndGlyphs">C1inh</text>
<text x="299.50" y="329.90" font-size="5.06" fill="#777" textLength="7.2" lengthAdjust="spacingAndGlyphs">−/−</text>
<text x="240.30" y="258.60" font-size="8.9" fill="#2a2a2a" text-anchor="middle" textLength="77.8" lengthAdjust="spacingAndGlyphs" transform="rotate(-90 240.30 258.60)">Thrombus weight (mg)</text>
<rect x="378.30" y="217.30" width="16.10" height="87.00" fill="#c8c8c9"/>
<rect x="378.30" y="229.50" width="16.10" height="74.80" fill="#0f4c8a"/>
<rect x="403.80" y="217.30" width="16.40" height="87.00" fill="#c8c8c9"/>
<rect x="403.80" y="242.70" width="16.40" height="61.60" fill="#c90a2c"/>
<line x1="368.80" y1="214.00" x2="368.80" y2="304.30" stroke="#111" stroke-width="1.0"/>
<line x1="365.80" y1="304.30" x2="428.50" y2="304.30" stroke="#111" stroke-width="1.0"/>
<line x1="365.80" y1="304.30" x2="368.80" y2="304.30" stroke="#111" stroke-width="1.0"/>
<text x="362.60" y="307.00" font-size="8.4" fill="#2a2a2a" text-anchor="end" textLength="4.15" lengthAdjust="spacingAndGlyphs">0</text>
<line x1="365.80" y1="286.80" x2="368.80" y2="286.80" stroke="#111" stroke-width="1.0"/>
<text x="362.60" y="289.50" font-size="8.4" fill="#2a2a2a" text-anchor="end" textLength="8.3" lengthAdjust="spacingAndGlyphs">20</text>
<line x1="365.80" y1="269.30" x2="368.80" y2="269.30" stroke="#111" stroke-width="1.0"/>
<text x="362.60" y="272.00" font-size="8.4" fill="#2a2a2a" text-anchor="end" textLength="8.3" lengthAdjust="spacingAndGlyphs">40</text>
<line x1="365.80" y1="251.80" x2="368.80" y2="251.80" stroke="#111" stroke-width="1.0"/>
<text x="362.60" y="254.50" font-size="8.4" fill="#2a2a2a" text-anchor="end" textLength="8.3" lengthAdjust="spacingAndGlyphs">60</text>
<line x1="365.80" y1="234.30" x2="368.80" y2="234.30" stroke="#111" stroke-width="1.0"/>
<text x="362.60" y="237.00" font-size="8.4" fill="#2a2a2a" text-anchor="end" textLength="8.3" lengthAdjust="spacingAndGlyphs">80</text>
<line x1="365.80" y1="216.80" x2="368.80" y2="216.80" stroke="#111" stroke-width="1.0"/>
<text x="362.60" y="219.50" font-size="8.4" fill="#2a2a2a" text-anchor="end" textLength="12.450000000000001" lengthAdjust="spacingAndGlyphs">100</text>
<line x1="386.20" y1="304.30" x2="386.20" y2="306.90" stroke="#111" stroke-width="1.0"/>
<line x1="412.00" y1="304.30" x2="412.00" y2="306.90" stroke="#111" stroke-width="1.0"/>
<line x1="376.70" y1="211.50" x2="420.80" y2="211.50" stroke="#333" stroke-width="1.3"/>
<text x="398.70" y="206.90" font-size="7.6" fill="#444" text-anchor="middle">ns</text>
<text x="386.30" y="225.60" font-size="8.4" fill="#222" text-anchor="middle">1</text>
<text x="412.00" y="233.10" font-size="8.8" fill="#222" text-anchor="middle">2</text>
<text x="386.40" y="269.80" font-size="8.8" fill="#fff" stroke="#fff" stroke-width="0.1" text-anchor="middle">6</text>
<text x="412.00" y="276.20" font-size="8.8" fill="#fde" stroke="#fde" stroke-width="0.1" text-anchor="middle">5</text>
<rect x="435.30" y="247.40" width="5.50" height="5.50" fill="#c8c8c9"/>
<rect x="435.30" y="257.60" width="5.50" height="5.50" fill="#0f4c8a"/>
<rect x="435.30" y="266.60" width="5.50" height="5.50" fill="#c90a2c"/>
<text x="444.70" y="252.30" font-size="8.2" fill="#2a2a2a" textLength="46.0" lengthAdjust="spacingAndGlyphs">No Thrombus</text>
<text x="444.70" y="266.80" font-size="8.2" fill="#2a2a2a" textLength="33.4" lengthAdjust="spacingAndGlyphs">Thrombus</text>
<text x="376.90" y="317.70" font-size="8.3" fill="#2a2a2a" textLength="18.2" lengthAdjust="spacingAndGlyphs">CTRL</text>
<text x="400.30" y="317.70" font-size="8.3" fill="#2a2a2a" textLength="23.5" lengthAdjust="spacingAndGlyphs">C1INH</text>
<line x1="374.20" y1="321.50" x2="425.40" y2="321.50" stroke="#222" stroke-width="1.4"/>
<text x="386.20" y="333.90" font-size="9.2" fill="#2a2a2a" font-style="italic" textLength="19.5" lengthAdjust="spacingAndGlyphs">C1inh</text>
<text x="406.00" y="329.90" font-size="5.06" fill="#777" textLength="7.1" lengthAdjust="spacingAndGlyphs">−/−</text>
<text x="343.30" y="258.65" font-size="8.9" fill="#2a2a2a" text-anchor="middle" textLength="80.5" lengthAdjust="spacingAndGlyphs" transform="rotate(-90 343.30 258.65)">Thrombus incidence (%)</text>
<rect x="0.5" y="0.5" width="519" height="341" fill="none" stroke="#3a3a3a" stroke-width="1.2"/>
</svg>
</body></html>
